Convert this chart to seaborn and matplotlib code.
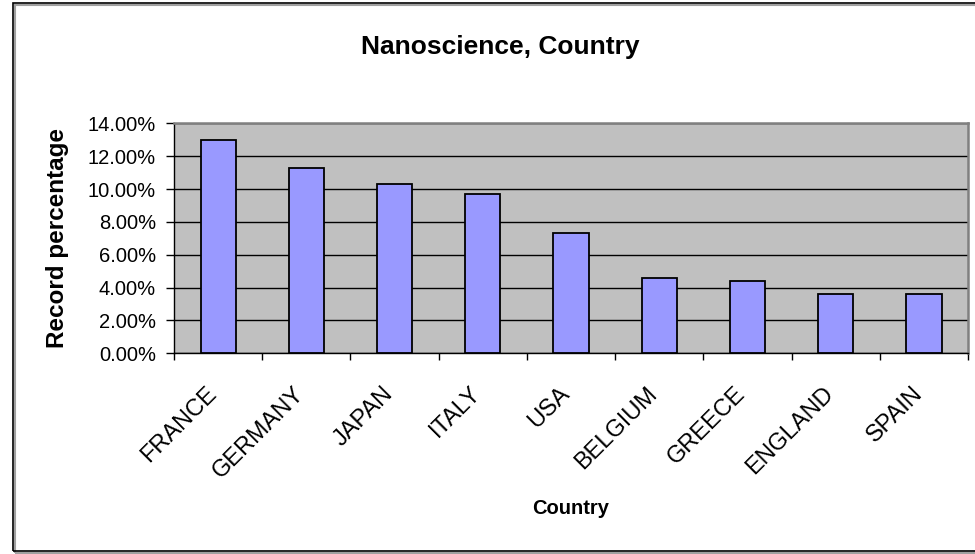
import matplotlib
matplotlib.use("Agg")
import matplotlib.pyplot as plt
import matplotlib.patches as mpatches
import matplotlib.transforms as mtransforms
from matplotlib.ticker import FuncFormatter, MultipleLocator
import seaborn as sns
import pandas as pd

countries = ["FRANCE", "GERMANY", "JAPAN", "ITALY", "USA",
             "BELGIUM", "GREECE", "ENGLAND", "SPAIN"]
shares = [0.130, 0.113, 0.103, 0.097, 0.073, 0.046, 0.044, 0.036, 0.036]

title_text = "Nanoscience, Country"
x_title = "Country"
y_title = "Record percentage"

df = pd.DataFrame({"country": countries, "share": shares})

sns.set_theme(style="white")
plt.rcParams["font.family"] = ["Liberation Sans", "DejaVu Sans"]
plt.rcParams["text.color"] = "black"
plt.rcParams["xtick.color"] = "black"
plt.rcParams["ytick.color"] = "black"
plt.rcParams["axes.labelcolor"] = "black"

fig = plt.figure(figsize=(9.75, 5.54), dpi=100)
ax = fig.add_axes([0.1785, 0.3623, 0.8143, 0.4151])
ax.set_facecolor("#C0C0C0")

sns.barplot(data=df, x="country", y="share", ax=ax, color="#9999FF",
            saturation=1, width=0.4, edgecolor="black", linewidth=1.3,
            zorder=3)

ax.set_ylim(0, 0.14)
ax.set_xlim(-0.5, len(countries) - 0.5)
ax.yaxis.set_major_locator(MultipleLocator(0.02))
ax.yaxis.set_major_formatter(FuncFormatter(lambda v, _: f"{v:.2%}"))
ax.grid(axis="y", color="black", linewidth=1.0, zorder=1)
ax.set_axisbelow(True)

for side in ["top", "right"]:
    ax.spines[side].set_color("#808080")
    ax.spines[side].set_linewidth(1.8)
for side in ["left", "bottom"]:
    ax.spines[side].set_color("black")
    ax.spines[side].set_linewidth(1.0)

# category ticks sit at the boundaries between bars
ax.set_xticks([i - 0.5 for i in range(len(countries) + 1)])
ax.set_xticklabels([])
ax.tick_params(axis="x", direction="out", length=5, width=1,
               color="black", bottom=True)
ax.tick_params(axis="y", direction="out", length=6, width=1,
               color="black", left=True, pad=7, labelsize=14.5)

# slanted category names, right end anchored under each bar
base = mtransforms.blended_transform_factory(ax.transData, ax.transAxes)
offset = mtransforms.ScaledTranslation(-5 / 100, -37 / 100, fig.dpi_scale_trans)
for i, name in enumerate(countries):
    ax.text(i, 0, name, transform=base + offset, rotation=45,
            rotation_mode="anchor", ha="right", va="center", fontsize=17)

ax.set_xlabel("")
ax.set_ylabel("")
fig.text(0.513, 0.915, title_text, ha="center", va="center",
         fontsize=19, fontweight="bold")
fig.text(0.585, 0.083, x_title, ha="center", va="center",
         fontsize=14.5, fontweight="bold")
fig.text(0.059, 0.57, y_title, ha="center", va="center", rotation=90,
         fontsize=17.5, fontweight="bold")

# chart-area frame with a slight drop shadow (runs past the right edge)
shadow = mpatches.Rectangle((15 / 975, 1 - 553 / 554), 1.0, 548 / 554,
                            transform=fig.transFigure, fill=False,
                            edgecolor="#A0A0A0", linewidth=1.5)
frame = mpatches.Rectangle((13 / 975, 1 - 551 / 554), 1.0, 548 / 554,
                           transform=fig.transFigure, fill=False,
                           edgecolor="black", linewidth=1.2)
fig.patches.extend([shadow, frame])

fig.savefig("out.png", dpi=100, facecolor="white")
